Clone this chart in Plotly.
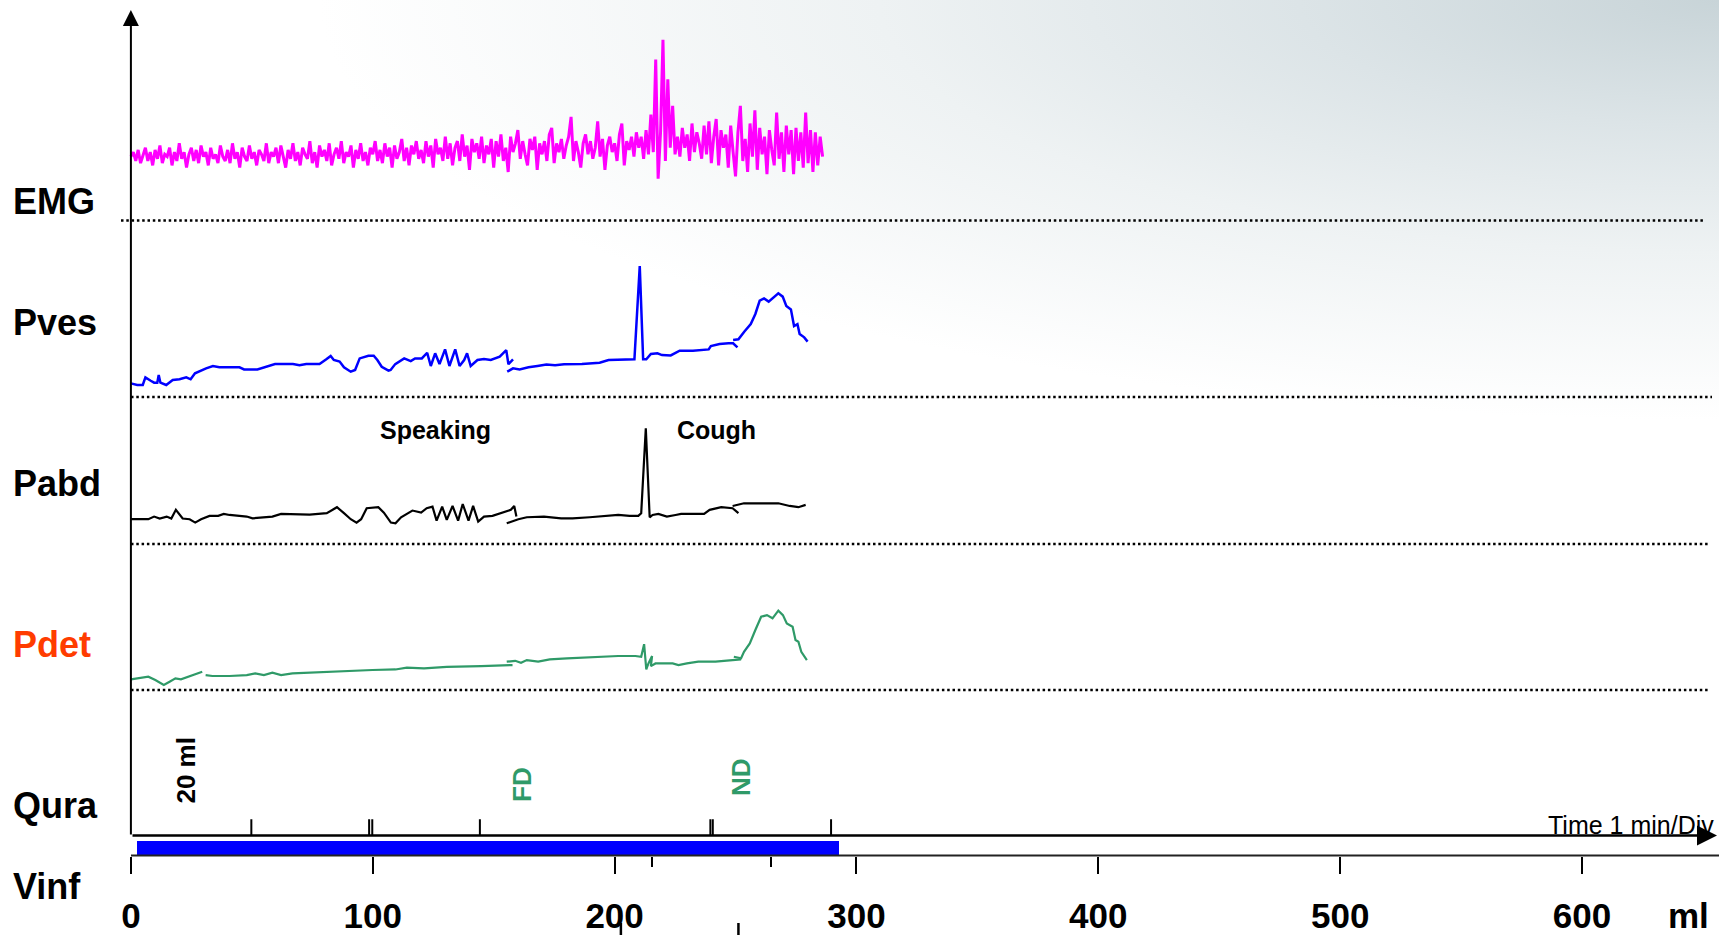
import base64
import plotly.graph_objects as go

W, H = 1719, 935

# ---------------- data (x in ml infused, pressures in cmH2O, EMG in uV) ----------------
EMG_UV = [
    29, 31, 27, 32, 26, 30, 33, 27, 31, 25,
    32, 28, 34, 26, 30, 29, 33, 25, 31, 27,
    35, 28, 31, 24, 30, 33, 27, 32, 26, 34,
    29, 31, 25, 33, 28, 30, 26, 34, 29, 27,
    32, 26, 35, 28, 31, 24, 33, 29, 27, 34,
    28, 31, 25, 32, 30, 27, 35, 26, 31, 29,
    33, 26, 34, 29, 24, 32, 28, 35, 27, 31,
    25, 33, 30, 28, 36, 26, 31, 24, 34, 29,
    32, 27, 35, 25, 30, 33, 28, 36, 26, 31,
    29, 34, 24, 32, 28, 35, 27, 31, 25, 33,
    30, 36, 27, 32, 26, 35, 29, 33, 24, 34,
    28, 31, 37, 27, 33, 25, 34, 30, 36, 28,
    32, 26, 36, 29, 34, 24, 37, 30, 33, 27,
    38, 28, 35, 25, 33, 36, 27, 39, 29, 34,
    23, 37, 31, 35, 28, 38, 26, 34, 30, 37,
    24, 36, 29, 39, 27, 33, 22, 38, 31, 35,
    41, 28, 36, 30, 25, 37, 32, 38, 23, 35,
    30, 36, 27, 39, 42, 26, 35, 31, 37, 28,
    34, 38, 47, 27, 36, 31, 24, 35, 39, 30,
    36, 28, 33, 45, 29, 37, 23, 34, 38, 31,
    35, 27, 39, 44, 25, 36, 32, 38, 29, 40,
    33, 38, 28, 41, 30, 48, 31, 73, 19, 40,
    82, 27, 64, 33, 52, 30, 38, 29, 42, 33,
    39, 27, 44, 31, 40, 35, 28, 43, 30, 45,
    26, 38, 46, 25, 41, 33, 39, 24, 43, 31,
    20, 40, 52, 27, 37, 22, 44, 29, 50, 23,
    42, 30, 38, 21, 41, 32, 25, 49, 28, 40,
    22, 43, 30, 41, 21, 42, 27, 40, 24, 49,
    26, 41, 22, 40, 25, 38, 29,
]
EMG_ML = list(range(len(EMG_UV)))  # one sample per ml

PVES_ML_A = [0, 2.6, 4.9, 6.0, 8.2, 9.6, 10.9, 11.5, 12.2, 14.6, 17.3, 20.1, 22.9, 24.7, 26.5,
             28.4, 31.1, 33.9, 36.6, 44.9, 46.8, 52.3, 56.0, 59.6, 67.0, 69.7, 72.5, 78.0, 80.8,
             82.6, 83.9, 86.3, 88.1, 90.9, 92.7, 94.6, 98.2, 100.4, 101.9, 103.7, 106.5, 107.4,
             109.3, 113.0, 115.7, 117.5, 120.3, 122.5, 124.0, 125.8, 127.6, 129.9, 131.7, 134.1,
             135.9, 137.8, 139.0, 140.5, 143.3, 146.0, 148.8, 152.5, 155.2, 156.1, 158.0]
PVES_A = [7.7, 6.8, 6.8, 11.1, 9.2, 8.1, 8.1, 12.4, 8.1, 6.8, 9.6, 10.0, 11.1, 10.0, 13.4,
          14.7, 16.2, 17.5, 16.8, 16.8, 15.6, 15.6, 17.1, 18.6, 18.6, 17.9, 18.6, 18.6, 21.3,
          23.2, 20.9, 20.0, 16.8, 14.3, 15.3, 21.8, 23.3, 23.3, 20.9, 17.1, 14.9, 15.3,
          18.6, 21.8, 20.3, 21.8, 21.8, 25.0, 17.5, 24.7, 18.6, 26.9, 17.5, 26.9,
          17.5, 20.9, 24.7, 17.5, 20.9, 21.5, 20.9, 22.8, 26.5, 18.5, 21.3]
PVES_ML_B = [155.6, 158.0, 160.7, 164.4, 168.1, 171.8, 175.4, 179.1, 186.5, 190.1, 193.8, 197.5,
             203.0, 206.7, 208.2, 210.4, 211.8, 213.1, 215.0, 217.7, 219.6, 223.2, 226.9, 232.4,
             235.2, 238.9, 239.8, 243.4, 247.1, 249.0, 250.8]
PVES_B = [14.3, 16.2, 15.6, 16.8, 17.5, 18.3, 17.9, 18.5, 18.6, 19.0, 19.4, 20.9,
          20.9, 21.3, 21.3, 74.0, 21.3, 21.3, 24.3, 24.7, 23.7, 23.5, 26.2, 26.2,
          26.5, 26.9, 28.8, 29.9, 30.3, 30.3, 28.0]
PVES_ML_C = [249.0, 251.2, 253.6, 256.3, 258.2, 260.0, 261.8, 263.7, 267.7, 269.5, 271.0, 272.9,
             274.2, 275.6, 276.5, 278.4, 279.8]
PVES_C = [32.2, 32.6, 36.9, 41.2, 46.9, 54.4, 55.7, 53.9, 58.6, 56.7, 51.4, 49.5,
          40.1, 41.2, 35.6, 33.7, 31.3]

PABD_ML_A = [0, 7.2, 9.6, 11.9, 14.8, 16.7, 18.6, 21.4, 24.3, 26.6, 29.0, 32.5, 36.1, 38.4, 40.8,
             47.9, 50.3, 55.0, 58.5, 62.1, 69.2, 73.9, 81.0, 85.2, 88.1, 90.9, 93.3, 95.2, 97.5,
             102.3, 104.6, 107.5, 109.4, 111.7, 116.4, 120.0, 122.3, 124.7, 126.4, 128.7, 130.6,
             133.0, 135.3, 137.2, 139.6, 141.5, 143.6, 146.0, 149.5, 153.1, 157.1, 158.5, 159.4]
PABD_A = [14.0, 14.0, 15.5, 14.4, 15.5, 14.4, 19.3, 14.4, 14.0, 12.1, 14.0, 15.9, 15.9, 17.0, 16.4,
          15.5, 14.5, 15.1, 15.5, 17.0, 16.6, 16.6, 17.4, 20.8, 17.4, 14.0, 12.1, 14.0, 20.2,
          20.8, 17.7, 12.1, 11.7, 15.1, 18.9, 17.7, 20.2, 21.1, 13.2, 21.1, 13.6,
          21.5, 13.2, 22.6, 13.2, 21.5, 12.7, 15.5, 15.9, 17.4, 19.3, 21.5, 15.5]
PABD_ML_B = [155.4, 160.2, 163.7, 170.8, 177.9, 182.6, 189.7, 194.4, 199.2, 201.5, 206.2, 209.8,
             211.0, 212.9, 214.5, 215.7, 218.1, 221.6, 225.2, 227.5, 237.0, 239.3, 244.1, 248.8,
             251.2]
PABD_B = [11.7, 14.0, 15.1, 15.5, 14.5, 14.5, 15.1, 15.5, 16.1, 16.4, 15.9, 15.9,
          17.4, 65.4, 15.1, 16.4, 17.0, 15.5, 16.4, 17.0, 17.0, 19.3, 20.8, 20.2, 17.4]
PABD_ML_C = [248.8, 253.5, 260.6, 267.7, 272.4, 276.0, 279.0]
PABD_C = [21.5, 23.0, 23.0, 23.0, 21.5, 20.8, 22.1]

PDET_ML_A = [0, 4.2, 7.2, 10.1, 13.6, 16.0, 18.4, 20.7, 24.3, 27.8, 29.5]
PDET_A = [6.0, 7.1, 7.5, 5.6, 2.8, 4.7, 6.6, 6.0, 7.9, 9.4, 10.3]
PDET_ML_B = [30.9, 33.7, 40.8, 47.9, 51.4, 55.0, 58.5, 62.1, 66.8, 73.9, 83.3, 88.1, 99.9, 109.4,
             114.1, 121.2, 130.6, 144.8, 154.3, 157.8]
PDET_B = [8.4, 7.9, 7.9, 8.4, 9.4, 8.4, 9.8, 8.4, 9.4, 9.8, 10.3, 10.9, 11.3, 11.6,
          12.6, 12.2, 13.1, 13.5, 13.7, 14.1]
PDET_ML_C = [155.4, 158.9, 161.3, 163.7, 168.4, 173.2, 180.3, 187.4, 192.1, 196.8, 201.5, 208.6,
             211.0, 212.2, 213.1, 214.0, 215.5, 215.0, 216.9, 224.0, 226.4, 229.9, 234.6, 241.7,
             246.4, 252.3]
PDET_C = [16.0, 16.5, 15.4, 16.9, 16.0, 17.3, 17.9, 18.4, 18.8, 18.8, 19.2, 19.2,
          18.8, 25.9, 11.6, 15.0, 19.2, 13.5, 15.0, 15.0, 14.1, 15.0, 16.0, 16.0,
          16.5, 17.3]
PDET_ML_D = [249.3, 252.3, 253.5, 255.9, 258.2, 260.6, 263.0, 265.3, 267.7, 269.6, 271.2, 273.6,
             274.8, 276.0, 277.2, 279.5]
PDET_D = [18.8, 17.9, 21.6, 26.3, 33.9, 41.4, 42.3, 40.5, 44.8, 42.3, 37.6, 35.7,
          28.2, 27.3, 21.6, 16.9]

TIME_MARK_ML = [49.8, 98.5, 99.8, 144.3, 239.6, 240.6, 289.5]
VINF_START_ML = 2.5
VINF_END_ML = 292.7
VOLUME_TICKS = [0, 100, 200, 300, 400, 500, 600]
VOLUME_MINOR_TICKS = [215.3, 264.6]
CHANNELS = ["EMG", "Pves", "Pabd", "Pdet", "Qura", "Vinf"]
EVENTS = [("Speaking", 126.0), ("Cough", 242.0)]
QURA_MARKERS = [("20 ml", 23.0), ("FD", 161.7), ("ND", 252.0)]

# ---------------- helpers ----------------
def join(*segs):
    xs, ys = [], []
    for i in range(0, len(segs), 2):
        if xs:
            xs.append(None)
            ys.append(None)
        xs += list(segs[i])
        ys += list(segs[i + 1])
    return xs, ys


def fy(px):  # pixel row -> paper fraction
    return 1 - px / H


FONT = "Liberation Sans, Arial, sans-serif"
GREEN = "#2f9a68"

fig = go.Figure()

fig.add_trace(go.Scatter(x=EMG_ML, y=EMG_UV, mode="lines", yaxis="y",
                         line=dict(color="#ff00ff", width=3)))
x, y = join(PVES_ML_A, PVES_A, PVES_ML_B, PVES_B, PVES_ML_C, PVES_C)
fig.add_trace(go.Scatter(x=x, y=y, mode="lines", yaxis="y2", line=dict(color="#0000ff", width=2.5)))
x, y = join(PABD_ML_A, PABD_A, PABD_ML_B, PABD_B, PABD_ML_C, PABD_C)
fig.add_trace(go.Scatter(x=x, y=y, mode="lines", yaxis="y3", line=dict(color="#000000", width=2.2)))
x, y = join(PDET_ML_A, PDET_A, PDET_ML_B, PDET_B, PDET_ML_C, PDET_C, PDET_ML_D, PDET_D)
fig.add_trace(go.Scatter(x=x, y=y, mode="lines", yaxis="y4", line=dict(color=GREEN, width=2.2)))
fig.add_trace(go.Scatter(x=TIME_MARK_ML, y=[0.05] * len(TIME_MARK_ML), mode="markers", yaxis="y5",
                         marker=dict(symbol="line-ns", size=13, line=dict(width=2, color="black"))))
fig.add_trace(go.Bar(x=[VINF_END_ML - VINF_START_ML], base=[VINF_START_ML], y=[0], orientation="h",
                     width=1, yaxis="y6", marker=dict(color="#0000ff", line=dict(width=0))))

# panel domains (pixel rows of the baselines)
rows = {"y": (220.5, 0), "y2": (397, 220.5), "y3": (544, 397), "y4": (690, 544),
        "y5": (835.5, 690), "y6": (855.5, 841)}
ranges = {"y": [0, 100], "y2": [0, (397 - 220.5) / 1.77], "y3": [0, (544 - 397) / 1.77],
          "y4": [0, (690 - 544) / 1.77], "y5": [0, 1], "y6": [-0.5, 0.5]}
for key, (b, t) in rows.items():
    name = "yaxis" if key == "y" else "yaxis" + key[1:]
    fig.layout[name] = dict(domain=[fy(b), fy(t)], range=ranges[key], visible=False, anchor="x",
                            fixedrange=True, automargin=False)

fig.update_layout(
    width=W, height=H, margin=dict(l=0, r=0, t=0, b=0, autoexpand=False),
    paper_bgcolor="white", plot_bgcolor="rgba(0,0,0,0)", showlegend=False, hovermode=False,
    bargap=0,
    xaxis=dict(domain=[0, 1], range=[-130.9 / 2.4185, (W - 130.9) / 2.4185], anchor="y6",
               automargin=False,
               showgrid=False, zeroline=False, showline=False,
               tickmode="array", tickvals=VOLUME_TICKS, ticktext=[str(v) for v in VOLUME_TICKS],
               ticks="outside", ticklen=17, tickwidth=2, tickcolor="black",
               ticklabelstandoff=12,
               tickfont=dict(family=FONT, size=35, color="black", weight="bold"),
               minor=dict(tickmode="array", tickvals=VOLUME_MINOR_TICKS, ticks="outside",
                          ticklen=10, tickwidth=2, tickcolor="black")),
)

# gradient background
svg = ('<svg xmlns="http://www.w3.org/2000/svg" width="1719" height="935">'
       '<defs><radialGradient id="g" gradientUnits="userSpaceOnUse" cx="0" cy="0" r="1400" '
       'gradientTransform="translate(1719,0) scale(1,0.3)">'
       '<stop offset="0" stop-color="#c8d4d8"/><stop offset="0.3" stop-color="#dce4e7"/>'
       '<stop offset="0.6" stop-color="#eef2f3"/><stop offset="1" stop-color="#ffffff"/>'
       '</radialGradient></defs><rect width="1719" height="935" fill="url(#g)"/></svg>')
fig.add_layout_image(dict(source="data:image/svg+xml;base64," + base64.b64encode(svg.encode()).decode(),
                          xref="paper", yref="paper", x=0, y=1, sizex=1, sizey=1,
                          sizing="stretch", layer="below", xanchor="left", yanchor="top"))

shapes = []
# dotted channel baselines
for x0, x1, row in [(121, 1703, 220.5), (131, 1712, 397), (131, 1710, 544), (131, 1710, 690)]:
    shapes.append(dict(type="line", xref="paper", yref="paper", x0=x0 / W, x1=x1 / W,
                       y0=fy(row), y1=fy(row), line=dict(color="black", width=2.5, dash="2.5px,2.8px")))
# Vinf baseline
shapes.append(dict(type="line", xref="paper", yref="paper", x0=131 / W, x1=1, y0=fy(855.5), y1=fy(855.5),
                   line=dict(color="#222222", width=2)))
# stray marks at bottom edge
for xm in [202.6, 251.2]:
    shapes.append(dict(type="line", xref="x", yref="paper", x0=xm, x1=xm, y0=0, y1=fy(923),
                       line=dict(color="black", width=2.5)))
fig.update_layout(shapes=shapes)

ann = []
# axis arrows
ann.append(dict(x=0, y=fy(10), xref="x", yref="paper", ax=0, ay=826, axref="pixel", ayref="pixel",
                text="", showarrow=True, arrowhead=2, arrowsize=1.6, arrowwidth=2, arrowcolor="black"))
ann.append(dict(x=1717 / W, y=fy(835.5), xref="paper", yref="paper", ax=-1586, ay=0, text="",
                showarrow=True, arrowhead=2, arrowsize=1.6, arrowwidth=2.5, arrowcolor="black"))
# channel labels
label_rows = [199, 320, 481.5, 642, 803, 884.5]
for name, row in zip(CHANNELS, label_rows):
    ann.append(dict(x=11 / W, y=fy(row + 2), xref="paper", yref="paper", xanchor="left", yanchor="middle",
                    text=name, showarrow=False,
                    font=dict(family=FONT, size=36, weight="bold",
                              color="#ff3c00" if name == "Pdet" else "black")))
# event labels
for txt, xm in EVENTS:
    ann.append(dict(x=xm, y=64.5, xref="x", yref="y3", text=txt, showarrow=False,
                    xanchor="center", yanchor="middle",
                    font=dict(family=FONT, size=25, weight="bold", color="black")))
# Qura markers
for (txt, xm), yv in zip(QURA_MARKERS, [0.45, 0.354, 0.405]):
    ann.append(dict(x=xm, y=yv, xref="x", yref="y5", text=txt, textangle=-90, showarrow=False,
                    xanchor="center", yanchor="middle",
                    font=dict(family=FONT, size=26, weight="bold",
                              color="black" if txt == "20 ml" else GREEN)))
# units
ann.append(dict(x=1688 / W, y=fy(915), xref="paper", yref="paper", text="ml", showarrow=False,
                xanchor="center", yanchor="middle",
                font=dict(family=FONT, size=35, weight="bold", color="black")))
ann.append(dict(x=1716 / W, y=fy(841), xref="paper", yref="paper", xanchor="right", yanchor="bottom",
                text="Time 1 min/Div", showarrow=False,
                font=dict(family=FONT, size=25, color="black")))
fig.update_layout(annotations=ann)

fig.write_html("out.html", config={"displayModeBar": False})
